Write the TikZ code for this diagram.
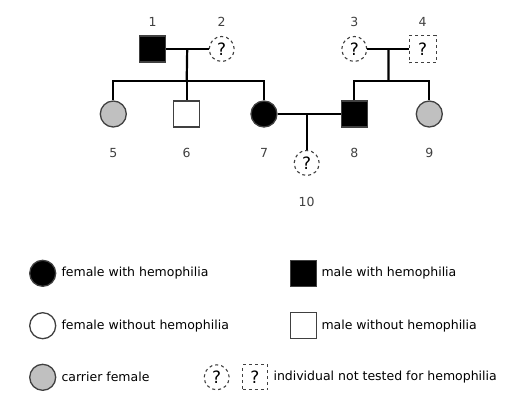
\documentclass[tikz,border=0pt]{standalone}
\usepackage{fontspec}
\setmainfont{DejaVu Sans}
\usepackage{tikz}
\usetikzlibrary{calc}

\definecolor{carrier}{HTML}{C0C0C0}
\definecolor{edgegray}{HTML}{404040}

\begin{document}
\begin{tikzpicture}[x=1pt,y=-1pt,font=\fontsize{12.5}{14}\selectfont,
    person/.style={draw=edgegray,line width=1.3pt,inner sep=0pt,minimum size=26pt},
    female/.style={person,circle},
    male/.style={person,rectangle},
    affected/.style={fill=black},
    carrierf/.style={fill=carrier},
    untested/.style={draw=edgegray,dashed,line width=1.1pt,inner sep=0pt,font=\fontsize{17}{17}\selectfont},
    num/.style={text=edgegray},
    bond/.style={line width=2.2pt}]
  \useasboundingbox (0,0) rectangle (520,408);
  % generation I
  \node[male,affected] (p1) at (152.7,49) {};
  \node[female,untested,minimum size=25pt] (p2) at (221.7,49) {?};
  \node[female,untested,minimum size=25pt] (p3) at (354.3,49) {?};
  \node[male,untested,minimum size=27pt] (p4) at (422.7,49) {?};
  % generation II
  \node[female,carrierf] (p5) at (113.3,114) {};
  \node[male] (p6) at (186.7,114) {};
  \node[female,affected] (p7) at (264,114) {};
  \node[male,affected] (p8) at (354.3,114) {};
  \node[female,carrierf] (p9) at (429.3,114) {};
  % generation III
  \node[female,untested,minimum size=25pt] (p10) at (306.7,163) {?};
  % numbers
  \foreach \p/\n in {p1/1,p2/2,p3/3,p4/4}
    \node[num] at ($(\p)+(0,-27)$) {\n};
  \foreach \p/\n in {p5/5,p6/6,p7/7,p8/8,p9/9}
    \node[num] at ($(\p)+(0,39)$) {\n};
  \node[num] at ($(p10)+(0,39)$) {10};
  % lines
  \coordinate (s12) at (186.7,81);
  \coordinate (s34) at (388.5,81);
  \draw[bond] (p1) -- (p2);
  \draw[bond] ($(p1)!0.5!(p2)$) -- (s12);
  \draw[bond] (p5) |- (s12) -| (p7);
  \draw[bond] (s12) -- (p6);
  \draw[bond] (p3) -- (p4);
  \draw[bond] ($(p3)!0.5!(p4)$) -- (s34);
  \draw[bond] (p8) |- (s34) -| (p9);
  \draw[bond] (p7) -- (p8);
  \draw[bond] (p10 |- p7) -- (p10);
  % legend
  \node[female,affected] (k1) at (42.7,273.3) {};
  \node[anchor=west] (t1) at (58,273.3) {female with hemophilia};
  \node[male,affected] (k2) at (303.3,273.3) {};
  \node[anchor=west] (t2) at (318,273.3) {male with hemophilia};
  \node[female] (k3) at (42.7,325.7) {};
  \node[anchor=west] (t3) at (58,325.7) {female without hemophilia};
  \node[male] (k4) at (303.3,325.7) {};
  \node[anchor=west] (t4) at (318,325.7) {male without hemophilia};
  \node[female,carrierf] (k5) at (42.7,377.3) {};
  \node[anchor=west] (t5) at (58,377.3) {carrier female};
  \node[female,untested,minimum size=25pt] (k6) at (216.7,377.3) {?};
  \node[male,untested,minimum size=25pt] (k7) at (255,377.3) {?};
  \node[anchor=west] (t7) at (270,377.3) {individual not tested for hemophilia};
\end{tikzpicture}
\end{document}
